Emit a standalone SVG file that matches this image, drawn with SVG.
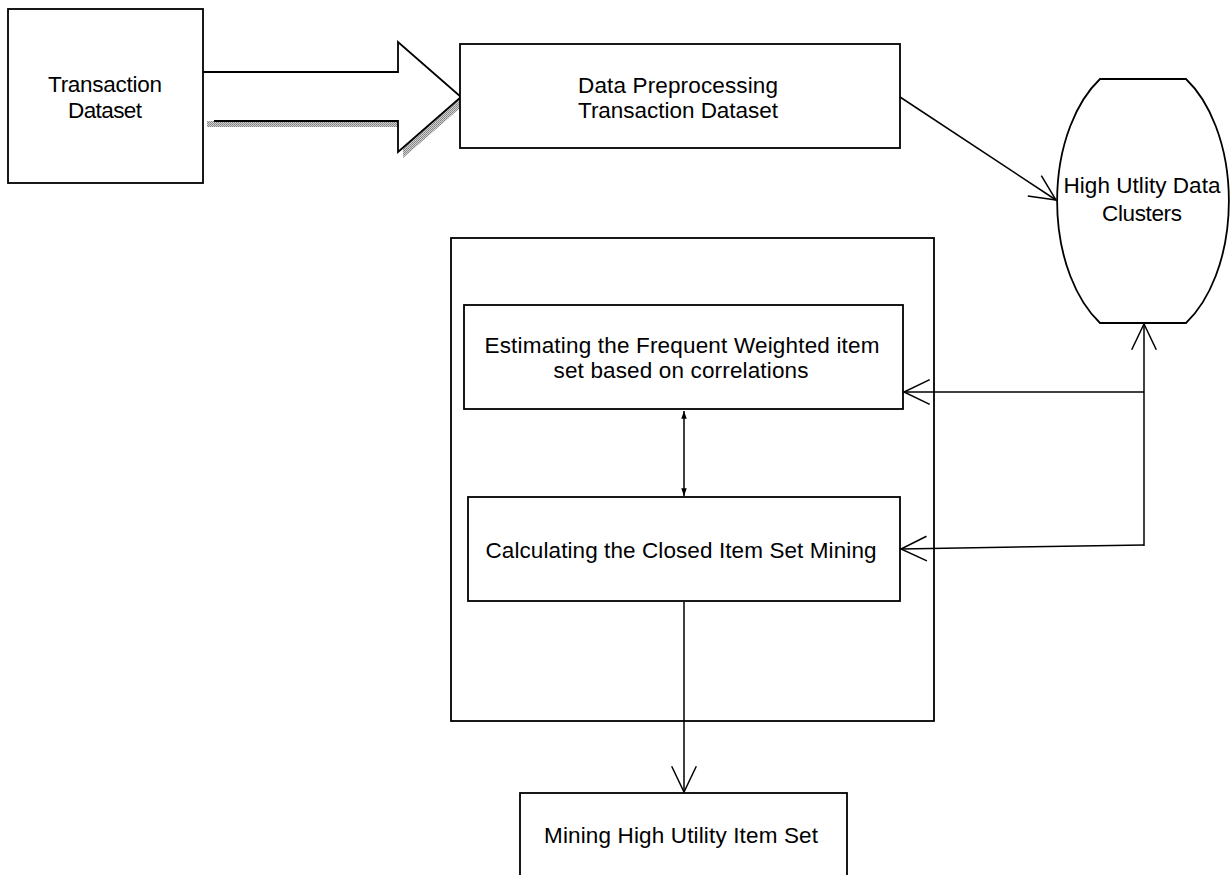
<svg xmlns="http://www.w3.org/2000/svg" width="1230" height="875" viewBox="0 0 1230 875">
<style>
.box{fill:#fff;stroke:#000;stroke-width:1.8}
.frame{fill:none;stroke:#000;stroke-width:1.8}
.lbl{font-family:"Liberation Sans",Arial,sans-serif;font-size:22.5px;fill:#000;text-anchor:middle}
.con{fill:none;stroke:#000;stroke-width:1.5}
</style>
<defs>
<marker id="open" markerUnits="userSpaceOnUse" markerWidth="30" markerHeight="30" viewBox="-26 -14 28 28" refX="0" refY="0" orient="auto">
<path d="M-24,-11.5 L0,0 L-24,11.5" fill="none" stroke="#000" stroke-width="1.4"/>
</marker>
<marker id="small" markerUnits="userSpaceOnUse" markerWidth="10" markerHeight="10" viewBox="-8 -4 9 8" refX="0" refY="0" orient="auto-start-reverse">
<path d="M-7,-2.5 L0,0 L-7,2.5 Z" fill="#000"/>
</marker>
<pattern id="dots" width="2" height="2" patternUnits="userSpaceOnUse">
<rect width="2" height="2" fill="#d0d0d0"/>
<rect width="1" height="1" fill="#808080"/>
<rect x="1" y="1" width="1" height="1" fill="#909090"/>
</pattern>
</defs>

<g id="big-arrow">
<path d="M207,76 L403,76 L403,47 L467,102 L403,158 L403,127 L207,127 Z" fill="url(#dots)"/>
<path d="M203,72 L398,72 L398,42 L461,97 L398,152 L398,121 L203,121 Z" fill="#fff"/>
<path d="M203,72 L398,72 L398,42 L461,97 L398,152 L398,121 L214,121" fill="none" stroke="#000" stroke-width="1.8"/>
</g>

<g id="transaction-dataset">
<rect class="box" x="8" y="9" width="195" height="174"/>
<text class="lbl" x="105" y="92" textLength="114">Transaction</text>
<text class="lbl" x="105" y="118" textLength="74">Dataset</text>
</g>

<g id="data-preprocessing">
<rect class="box" x="460" y="44" width="440" height="104"/>
<text class="lbl" x="678" y="93" textLength="200">Data Preprocessing</text>
<text class="lbl" x="678" y="118" textLength="200">Transaction Dataset</text>
</g>

<g id="high-utility-clusters">
<path class="box" d="M1100,79 L1186,79 A86,141 0 0 1 1186,323 L1100,323 A86,141 0 0 1 1100,79 Z"/>
<text class="lbl" x="1142" y="193" textLength="157">High Utlity Data</text>
<text class="lbl" x="1142" y="221" textLength="80">Clusters</text>
</g>

<g id="process-frame">
<rect class="frame" x="451" y="238" width="483" height="483"/>
</g>

<g id="estimating">
<rect class="box" x="464" y="305" width="439" height="104"/>
<text class="lbl" x="682" y="353" textLength="395">Estimating the Frequent Weighted item</text>
<text class="lbl" x="681" y="378" textLength="255">set based on correlations</text>
</g>

<g id="calculating">
<rect class="box" x="468" y="497" width="432" height="104"/>
<text class="lbl" x="681" y="558" textLength="391">Calculating the Closed Item Set Mining</text>
</g>

<g id="mining">
<rect class="box" x="520" y="793" width="327" height="100"/>
<text class="lbl" x="681" y="843" textLength="274">Mining High Utility Item Set</text>
</g>

<g id="connectors">
<path class="con" d="M900,97 L1056,200" marker-end="url(#open)"/>
<path class="con" d="M1144,546 L1144,324" marker-end="url(#open)"/>
<path class="con" d="M1144,392 L904,392" marker-end="url(#open)"/>
<path class="con" d="M1144,545 L901,549" marker-end="url(#open)"/>
<path class="con" d="M684,411 L684,496" marker-start="url(#small)" marker-end="url(#small)"/>
<path class="con" d="M684,602 L684,792" marker-end="url(#open)"/>
</g>
</svg>
